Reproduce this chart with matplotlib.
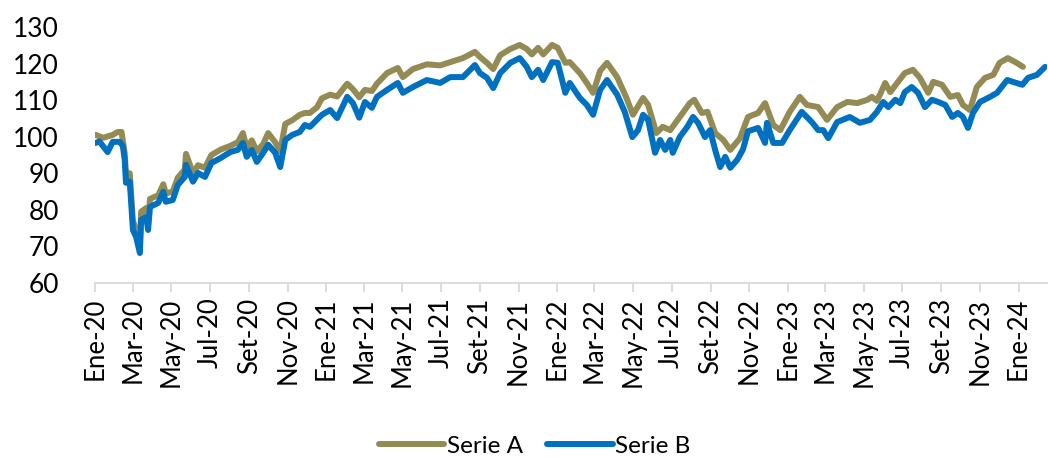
import matplotlib
matplotlib.use("Agg")
import matplotlib.pyplot as plt
import matplotlib.dates as mdates
from matplotlib.ticker import FuncFormatter
import pandas as pd

plt.rcParams['font.family'] = ['Lato', 'DejaVu Sans']

# etiquetas de meses (eje x)
meses = ['Ene', 'Feb', 'Mar', 'Abr', 'May', 'Jun', 'Jul', 'Ago', 'Set', 'Oct', 'Nov', 'Dic']

# Serie B
fechas_b = ['2020-01-02', '2020-01-08', '2020-01-21', '2020-01-29', '2020-02-09', '2020-02-14',
            '2020-02-17', '2020-02-19', '2020-02-25', '2020-03-01', '2020-03-06', '2020-03-12',
            '2020-03-14', '2020-03-22', '2020-03-25', '2020-03-28', '2020-04-10', '2020-04-18',
            '2020-04-22', '2020-05-03', '2020-05-11', '2020-05-22', '2020-05-24', '2020-06-04',
            '2020-06-12', '2020-06-23', '2020-07-03', '2020-07-18', '2020-08-02', '2020-08-14',
            '2020-08-22', '2020-08-28', '2020-09-05', '2020-09-13', '2020-09-23', '2020-10-01',
            '2020-10-12', '2020-10-20', '2020-10-28', '2020-11-08', '2020-11-20', '2020-11-28',
            '2020-12-06', '2020-12-17', '2020-12-25', '2021-01-07', '2021-01-18', '2021-02-03',
            '2021-02-12', '2021-02-22', '2021-03-03', '2021-03-14', '2021-03-22', '2021-04-07',
            '2021-04-24', '2021-05-02', '2021-05-18', '2021-06-09', '2021-06-30', '2021-07-16',
            '2021-08-05', '2021-08-24', '2021-09-01', '2021-09-12', '2021-09-22', '2021-10-03',
            '2021-10-19', '2021-11-03', '2021-11-14', '2021-11-22', '2021-12-02', '2021-12-10',
            '2021-12-24', '2022-01-02', '2022-01-14', '2022-01-21', '2022-02-06', '2022-02-17',
            '2022-02-27', '2022-03-10', '2022-03-21', '2022-04-06', '2022-04-18', '2022-04-30',
            '2022-05-09', '2022-05-17', '2022-05-25', '2022-06-05', '2022-06-13', '2022-06-21',
            '2022-06-29', '2022-07-03', '2022-07-14', '2022-07-26', '2022-08-04', '2022-08-12',
            '2022-08-23', '2022-08-31', '2022-09-08', '2022-09-16', '2022-09-24', '2022-10-02',
            '2022-10-13', '2022-10-22', '2022-10-30', '2022-11-15', '2022-11-26', '2022-11-29',
            '2022-12-09', '2022-12-23', '2023-01-04', '2023-01-23', '2023-01-31', '2023-02-08',
            '2023-02-18', '2023-02-26', '2023-03-06', '2023-03-20', '2023-04-09', '2023-04-25',
            '2023-05-11', '2023-05-22', '2023-06-01', '2023-06-09', '2023-06-20', '2023-06-28',
            '2023-07-05', '2023-07-16', '2023-07-26', '2023-08-06', '2023-08-17', '2023-08-27',
            '2023-09-07', '2023-09-18', '2023-09-27', '2023-10-05', '2023-10-13', '2023-10-21',
            '2023-11-01', '2023-11-17', '2023-11-28', '2023-12-14', '2023-12-23', '2024-01-07',
            '2024-01-16', '2024-01-30', '2024-02-12']
valores_b = [98.3, 98.7, 95.8, 98.6, 98.6, 97.5,
             93.7, 87.4, 87.7, 74.5, 72.6, 68.2,
             77.3, 78.0, 74.5, 80.8, 81.9, 84.9,
             82.2, 82.7, 86.8, 89.0, 92.3, 87.7,
             90.1, 89.0, 92.8, 94.2, 95.8, 96.4,
             98.3, 94.5, 96.4, 93.1, 95.6, 97.8,
             95.6, 91.7, 99.1, 100.5, 101.3, 103.2,
             102.7, 104.6, 106.0, 107.3, 105.1, 110.9,
             109.2, 105.2, 109.5, 107.9, 110.9, 112.8,
             114.7, 112.0, 113.6, 115.5, 114.7, 116.3,
             116.3, 119.6, 117.4, 116.1, 113.3, 117.4,
             120.2, 121.5, 119.1, 116.3, 118.3, 115.5,
             120.4, 120.2, 112.0, 114.7, 110.6, 108.7,
             106.0, 112.8, 115.5, 111.5, 106.8, 99.9,
             101.8, 106.0, 104.6, 95.6, 99.1, 96.4,
             99.1, 95.6, 99.9, 102.7, 105.4, 103.8,
             99.9, 101.8, 96.4, 91.7, 94.5, 91.5,
             93.7, 96.5, 101.5, 102.4, 98.3, 103.8,
             98.3, 98.3, 101.8, 106.8, 105.4, 104.0,
             101.8, 101.8, 99.6, 104.0, 105.4, 103.8,
             104.6, 106.8, 109.5, 108.1, 110.1, 109.2,
             112.2, 113.6, 112.0, 108.1, 110.1, 109.5,
             108.7, 105.4, 106.5, 105.4, 102.4, 106.5,
             109.5, 110.9, 112.0, 115.5, 115.0, 114.2,
             116.1, 116.9, 119.1]

# Serie A
fechas_a = ['2020-01-02', '2020-01-14', '2020-01-29', '2020-02-06', '2020-02-12', '2020-02-17',
            '2020-02-19', '2020-02-25', '2020-03-01', '2020-03-06', '2020-03-12', '2020-03-14',
            '2020-03-22', '2020-03-25', '2020-03-28', '2020-04-10', '2020-04-18', '2020-04-22',
            '2020-05-03', '2020-05-11', '2020-05-22', '2020-05-24', '2020-06-04', '2020-06-12',
            '2020-06-23', '2020-07-03', '2020-07-18', '2020-08-02', '2020-08-14', '2020-08-22',
            '2020-08-28', '2020-09-05', '2020-09-13', '2020-09-23', '2020-10-01', '2020-10-12',
            '2020-10-20', '2020-10-28', '2020-11-08', '2020-11-20', '2020-11-28', '2020-12-06',
            '2020-12-17', '2020-12-25', '2021-01-07', '2021-01-18', '2021-02-03', '2021-02-12',
            '2021-02-22', '2021-03-03', '2021-03-14', '2021-03-22', '2021-04-07', '2021-04-24',
            '2021-05-02', '2021-05-18', '2021-06-09', '2021-06-30', '2021-07-16', '2021-08-05',
            '2021-08-24', '2021-09-01', '2021-09-12', '2021-09-22', '2021-10-03', '2021-10-19',
            '2021-11-03', '2021-11-14', '2021-11-22', '2021-12-02', '2021-12-10', '2021-12-24',
            '2022-01-02', '2022-01-14', '2022-01-21', '2022-02-06', '2022-02-17', '2022-02-27',
            '2022-03-10', '2022-03-21', '2022-04-06', '2022-04-20', '2022-05-01', '2022-05-17',
            '2022-05-25', '2022-06-07', '2022-06-17', '2022-06-29', '2022-07-14', '2022-07-30',
            '2022-08-06', '2022-08-18', '2022-08-27', '2022-09-08', '2022-09-21', '2022-10-02',
            '2022-10-17', '2022-10-30', '2022-11-15', '2022-11-26', '2022-12-09', '2022-12-20',
            '2023-01-04', '2023-01-20', '2023-01-31', '2023-02-18', '2023-03-04', '2023-03-20',
            '2023-04-05', '2023-04-21', '2023-05-07', '2023-05-14', '2023-05-22', '2023-05-28',
            '2023-06-04', '2023-06-12', '2023-06-23', '2023-07-05', '2023-07-18', '2023-07-29',
            '2023-08-11', '2023-08-19', '2023-09-02', '2023-09-15', '2023-09-27', '2023-10-05',
            '2023-10-16', '2023-10-27', '2023-11-09', '2023-11-22', '2023-12-02', '2023-12-15',
            '2023-12-29', '2024-01-08']
valores_a = [100.5, 99.7, 100.5, 101.3, 101.3, 95.5,
             90.0, 90.0, 77.0, 74.5, 71.0, 79.5,
             80.5, 77.0, 83.0, 84.0, 87.0, 84.5,
             85.0, 88.8, 91.0, 95.3, 90.0, 92.2,
             91.5, 95.0, 96.5, 97.5, 98.5, 101.0,
             97.0, 99.0, 96.0, 98.0, 101.0, 98.5,
             96.0, 103.5, 104.5, 106.0, 106.5, 106.5,
             108.0, 110.5, 111.5, 111.0, 114.5, 113.0,
             110.8, 112.8, 112.5, 114.5, 117.4, 118.8,
             116.3, 118.5, 119.8, 119.5, 120.4, 121.5,
             123.2, 121.8, 120.2, 118.5, 122.3, 124.0,
             125.1, 124.0, 122.5, 124.3, 122.5, 125.1,
             124.3, 120.2, 120.4, 117.4, 114.7, 112.0,
             118.0, 120.2, 116.3, 110.9, 106.0, 110.6,
             108.7, 101.0, 102.7, 101.8, 105.4, 109.2,
             110.1, 106.5, 106.8, 101.0, 99.1, 96.4,
             99.5, 105.4, 106.5, 109.2, 103.2, 101.8,
             106.8, 110.9, 108.7, 108.1, 104.6, 108.1,
             109.5, 109.2, 110.1, 110.9, 109.8, 112.0,
             114.7, 112.2, 114.7, 117.4, 118.3, 116.1,
             112.0, 115.0, 114.2, 110.9, 111.4, 108.7,
             107.3, 113.6, 116.1, 116.9, 120.2, 121.5,
             120.2, 119.1]

fig = plt.figure(figsize=(10.48, 4.58), dpi=100)
ax = fig.add_axes([95 / 1048, 1 - 283 / 458, 952 / 1048, 256 / 458])

ax.plot(pd.to_datetime(fechas_a), valores_a, color='#948A54', lw=4.3,
        solid_joinstyle='round', solid_capstyle='round', label='Serie A')
ax.plot(pd.to_datetime(fechas_b), valores_b, color='#0070C0', lw=4.3,
        solid_joinstyle='round', solid_capstyle='round', label='Serie B')

ax.set_ylim(60, 130)
ax.set_yticks(range(60, 131, 10))
ax.set_xlim(pd.Timestamp('2020-01-01'), pd.Timestamp('2024-02-15'))

ax.xaxis.set_major_locator(mdates.MonthLocator(bymonth=[1, 3, 5, 7, 9, 11]))
ax.xaxis.set_major_formatter(FuncFormatter(
    lambda v, pos: meses[mdates.num2date(v).month - 1] + '-' + mdates.num2date(v).strftime('%y')))

for s in ['top', 'right', 'left']:
    ax.spines[s].set_visible(False)
ax.spines['bottom'].set_color('#D9D9D9')
ax.spines['bottom'].set_linewidth(1.3)
ax.tick_params(axis='x', direction='out', length=6.5, width=1.3, color='#D9D9D9',
               labelsize=18.5, rotation=90, pad=4)
ax.tick_params(axis='y', length=0, labelsize=19, pad=26)

fig.legend(loc='lower center', bbox_to_anchor=(0.51, -0.045), ncol=2, frameon=False,
           fontsize=17.5, handlelength=2.7, handletextpad=0.1, columnspacing=1.0)

fig.savefig('out.png', dpi=100)
